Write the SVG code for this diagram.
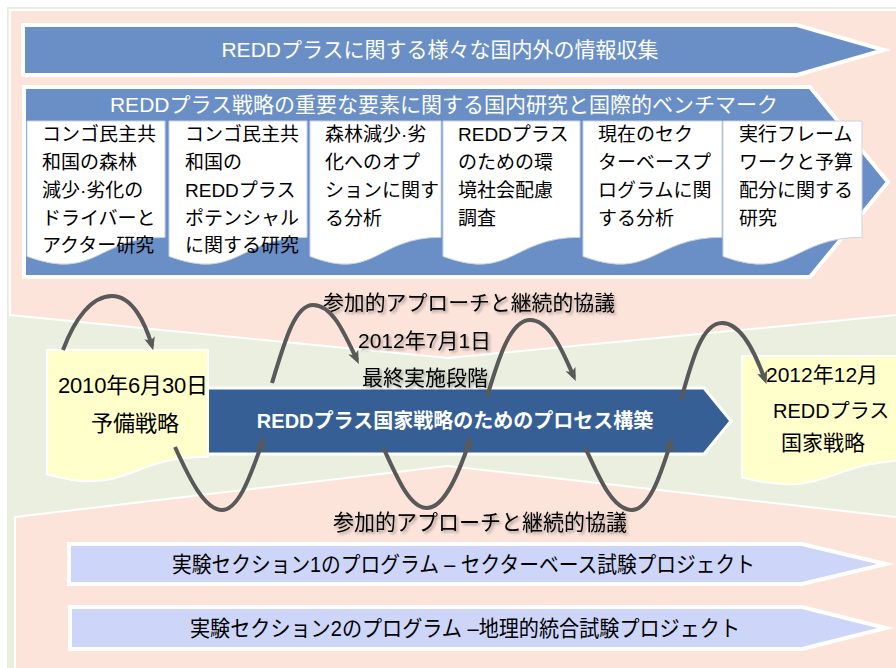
<svg xmlns="http://www.w3.org/2000/svg" width="896" height="668" viewBox="0 0 896 668">
<defs>
<style>
text{font-family:"Liberation Sans","Noto Sans CJK JP",sans-serif;}
.band{fill:#FDE4DB;stroke:#FFFFFF;stroke-width:2;}
.bluearrow{fill:#6A8FC6;stroke:#FFFFFF;stroke-width:4;stroke-miterlimit:10;}
.doc{fill:#FFFFFF;stroke:#C9D3E3;stroke-width:1;}
.ydoc{fill:#FFFFCC;stroke:#FFFFFF;stroke-width:2;}
.pilot{fill:#CDD5F8;stroke:#FFFFFF;stroke-width:4;stroke-miterlimit:10;}
.wt{fill:#FFFFFF;font-size:21px;text-anchor:middle;}
.dt{fill:#000000;font-size:19px;}
.lbl{fill:#000000;font-size:21px;}
.pt{fill:#000000;font-size:22px;}
.arc{fill:none;stroke:#595959;stroke-width:4;marker-end:url(#ah);}
</style>
<marker id="ah" viewBox="0 0 12 10" refX="8" refY="5" markerWidth="13" markerHeight="11" markerUnits="userSpaceOnUse" orient="auto">
<path d="M0,0 L12,5 L0,10 L3,5 Z" fill="#595959"/>
</marker>
<filter id="ts" x="-5%" y="-30%" width="112%" height="170%">
<feGaussianBlur in="SourceAlpha" stdDeviation="1.5"/>
<feOffset dx="2" dy="2" result="o"/>
<feComponentTransfer><feFuncA type="linear" slope="0.35"/></feComponentTransfer>
<feMerge><feMergeNode/><feMergeNode in="SourceGraphic"/></feMerge>
</filter>
</defs>

<g id="background">
<rect x="7" y="7" width="889" height="661" fill="#EBEFE0"/>
<polygon class="band" points="10,10 897,10 897,315 448,358 10,315"/>
<polygon class="band" points="15,517 448,466 897,517 897,669 15,669"/>
</g>

<g id="info-collection">
<polygon class="bluearrow" points="23,25 797,25 884,50 797,75 23,75"/>
<text class="wt" x="440" y="57">REDDプラスに関する様々な国内外の情報収集</text>
</g>

<g id="benchmark">
<polygon class="bluearrow" points="24,87 810,87 888,182 810,277 24,277"/>
<text class="wt" x="444" y="112">REDDプラス戦略の重要な要素に関する国内研究と国際的ベンチマーク</text>
</g>

<g id="doc1">
<path class="doc" d="M27,121 H165 V237.3 C96,237.3 96,281.6 27,256.4 Z"/>
<text class="dt" x="42"><tspan x="42" y="141">コンゴ民主共</tspan><tspan x="42" y="169">和国の森林</tspan><tspan x="42" y="197">減少·劣化の</tspan><tspan x="42" y="225">ドライバーと</tspan><tspan x="42" y="252">アクター研究</tspan></text>
</g>
<g id="doc2">
<path class="doc" d="M169,121 H307 V237.3 C238,237.3 238,281.6 169,256.4 Z"/>
<text class="dt"><tspan x="185" y="141">コンゴ民主共</tspan><tspan x="185" y="169">和国の</tspan><tspan x="185" y="197">REDDプラス</tspan><tspan x="185" y="225">ポテンシャル</tspan><tspan x="185" y="252">に関する研究</tspan></text>
</g>
<g id="doc3">
<path class="doc" d="M310,121 H441 V237.3 C375.5,237.3 375.5,281.6 310,256.4 Z"/>
<text class="dt"><tspan x="325" y="141">森林減少·劣</tspan><tspan x="325" y="169">化へのオプ</tspan><tspan x="325" y="197">ションに関す</tspan><tspan x="325" y="225">る分析</tspan></text>
</g>
<g id="doc4">
<path class="doc" d="M443,121 H580 V237.3 C511.5,237.3 511.5,281.6 443,256.4 Z"/>
<text class="dt"><tspan x="458" y="141">REDDプラス</tspan><tspan x="458" y="169">のための環</tspan><tspan x="458" y="197">境社会配慮</tspan><tspan x="458" y="225">調査</tspan></text>
</g>
<g id="doc5">
<path class="doc" d="M583,121 H722 V237.3 C652.5,237.3 652.5,281.6 583,256.4 Z"/>
<text class="dt"><tspan x="598" y="141">現在のセク</tspan><tspan x="598" y="169">ターベースプ</tspan><tspan x="598" y="197">ログラムに関</tspan><tspan x="598" y="225">する分析</tspan></text>
</g>
<g id="doc6">
<path class="doc" d="M723,121 H862 V237.3 C792.5,237.3 792.5,281.6 723,256.4 Z"/>
<text class="dt"><tspan x="739" y="141">実行フレーム</tspan><tspan x="739" y="169">ワークと予算</tspan><tspan x="739" y="197">配分に関する</tspan><tspan x="739" y="225">研究</tspan></text>
</g>

<g id="process">
<polygon points="206,388 704,388 731,421 704,454 206,454" fill="#355F95" stroke="#FFFFFF" stroke-width="3" stroke-miterlimit="10"/>
<text x="455" y="428" fill="#FFFFFF" font-size="20" font-weight="bold" text-anchor="middle">REDDプラス国家戦略のためのプロセス構築</text>
</g>

<g id="milestone-2010">
<path class="ydoc" d="M47,350 H208 V456.7 C127.5,456.7 127.5,497.3 47,474.2 Z"/>
<text x="133" y="393" font-size="22" text-anchor="middle" textLength="150" lengthAdjust="spacing" fill="#000">2010年6月30日</text>
<text x="135" y="431" font-size="22" text-anchor="middle" fill="#000">予備戦略</text>
</g>

<g id="milestone-2012-12">
<path class="ydoc" d="M742,356 H912 V460.3 C827,460.3 827,500 742,477.4 Z"/>
<text x="766" y="382" font-size="21" fill="#000">2012年12月</text>
<text x="773" y="418" font-size="20" fill="#000">REDDプラス</text>
<text x="781" y="450" font-size="21" fill="#000">国家戦略</text>
</g>

<g id="milestone-2012-7">
<text class="lbl" x="358" y="348" filter="url(#ts)">2012年7月1日</text>
<text class="lbl" x="362" y="385" font-size="22" filter="url(#ts)">最終実施段階</text>
</g>

<g id="participation-top">
<text class="lbl" x="323" y="310" textLength="292" lengthAdjust="spacingAndGlyphs" filter="url(#ts)">参加的アプローチと継続的協議</text>
</g>
<g id="participation-bottom">
<text x="333" y="530" font-size="22" fill="#000" textLength="294" lengthAdjust="spacingAndGlyphs" filter="url(#ts)">参加的アプローチと継続的協議</text>
</g>

<g id="pilot1">
<polygon class="pilot" points="69,544 802,544 886,564 802,584 69,584"/>
<text class="pt" x="172" y="572" textLength="583" lengthAdjust="spacingAndGlyphs">実験セクション1のプログラム – セクターベース試験プロジェクト</text>
</g>
<g id="pilot2">
<polygon class="pilot" points="70,607 802,607 886,628 802,649 70,649"/>
<text class="pt" x="190" y="636" textLength="550" lengthAdjust="spacingAndGlyphs">実験セクション2のプログラム –地理的統合試験プロジェクト</text>
</g>

<g id="connectors">
<path class="arc" d="M63,350 C75,318 92,296 112,296 C132,296 145,322 152,346"/>
<path class="arc" d="M175,447 C190,480 205,510 222,510 C240,510 252,470 263,441"/>
<path class="arc" d="M272,383 C285,340 295,305 313,305 C333,305 345,335 357,360"/>
<path class="arc" d="M383,447 C398,480 410,508 427,508 C445,508 460,470 470,440"/>
<path class="arc" d="M487,397 C498,360 510,320 530,320 C550,320 563,352 574,377"/>
<path class="arc" d="M585,447 C600,480 613,510 632,510 C650,510 662,470 671,442"/>
<path class="arc" d="M681,400 C692,360 702,323 722,323 C742,323 756,355 765,380"/>
</g>
</svg>
